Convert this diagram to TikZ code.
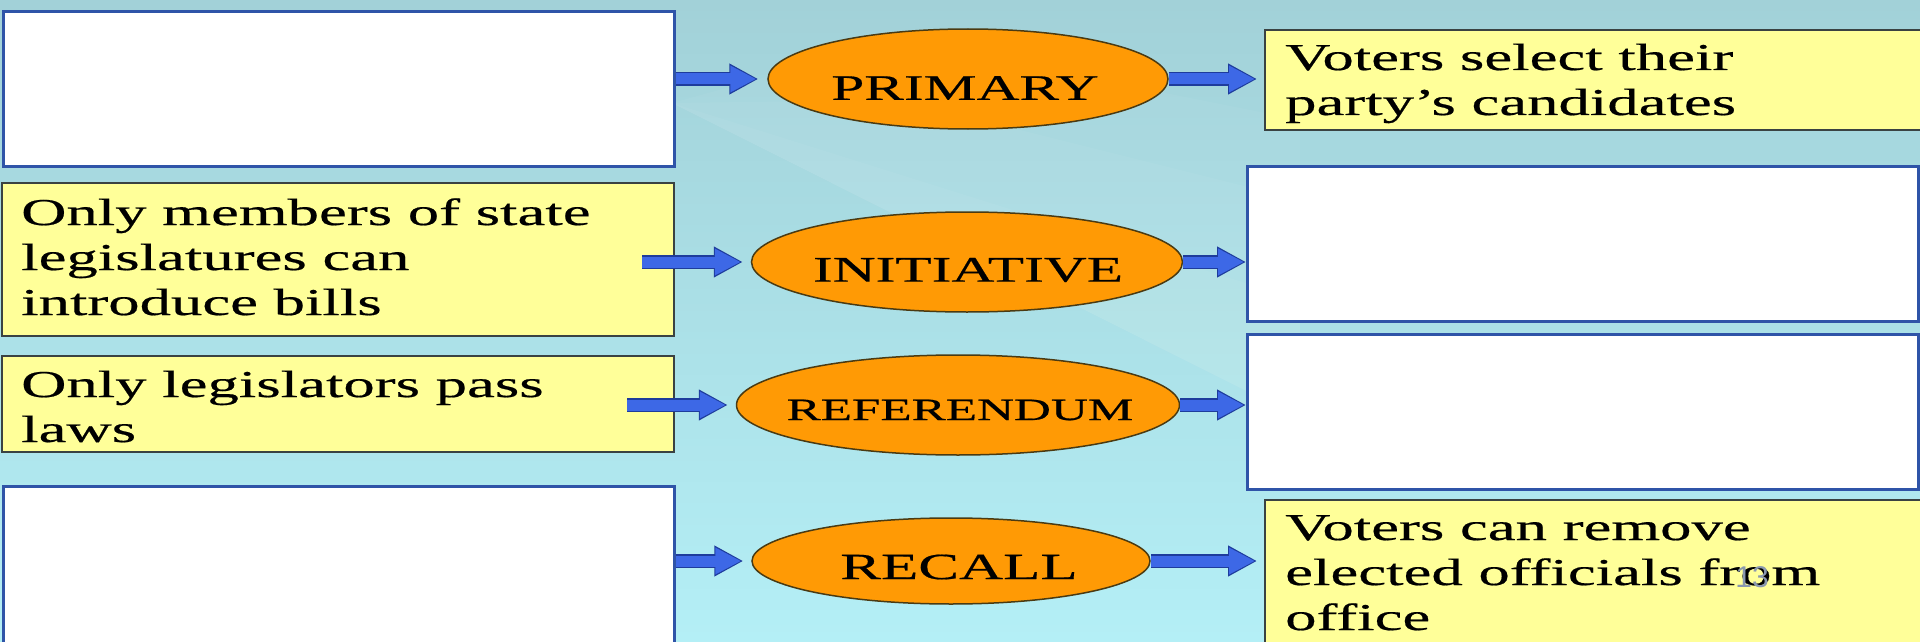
\documentclass[tikz,border=0pt]{standalone}
\usepackage{fontspec}
\setmainfont{Liberation Serif}
\newfontfamily\wideserif[FakeStretch=1.65,FakeBold=0.5]{Liberation Serif}
\newfontfamily\pagenumfont{Liberation Sans}
\usetikzlibrary{shapes.geometric,arrows.meta,calc}
\definecolor{bgtop}{HTML}{A2D1D8}
\definecolor{bgbot}{HTML}{B4EFF6}
\definecolor{boxyellow}{HTML}{FFFF99}
\definecolor{boxedge}{HTML}{3A4242}
\definecolor{whiteedge}{HTML}{2F54A8}
\definecolor{ovalfill}{HTML}{FF9A05}
\definecolor{ovaledge}{HTML}{4A3A12}
\definecolor{arrowblue}{HTML}{3D68E6}
\definecolor{arrowedge}{HTML}{1E3C9C}
\definecolor{pagegray}{HTML}{8A98AE}
\tikzset{
  yellowbox/.style={rectangle, anchor=north west, fill=boxyellow, draw=boxedge, line width=2pt, inner sep=0pt},
  whitebox/.style={rectangle, anchor=north west, fill=white, draw=whiteedge, line width=3pt, inner sep=0pt},
  oval/.style={ellipse, fill=ovalfill, draw=ovaledge, line width=1.5pt, inner sep=0pt},
  ovaltext/.style={inner sep=0pt, text=black},
  boxtext/.style={anchor=base west, inner sep=0pt, text=black, font=\wideserif\fontsize{38}{45}\selectfont},
  arrowout/.style={draw=arrowedge, line width=14pt, -{Triangle[width=29pt,length=29pt]}},
  arrowin/.style={draw=arrowblue, line width=11pt, -{Triangle[width=25pt,length=26pt]}},
}
\newcommand{\blockarrow}[4]{%
  \draw[arrowout, shorten >=#3] (#1) -- (#2);
  \draw[arrowin, shorten >=#4] (#1) -- (#2);
}
\begin{document}
\begin{tikzpicture}[x=1pt, y=-1pt]
\useasboundingbox (0,0) rectangle (1920,642);
% background
\fill[top color=bgtop, bottom color=bgbot] (0,0) rectangle (1920,642);
\fill[white, opacity=0.04] (672,103) -- (1300,418) -- (1300,120) -- (900,40) -- cycle;
\fill[white, opacity=0.04] (672,103) -- (1300,418) -- (1300,200) -- (900,100) -- cycle;
\fill[white, opacity=0.04] (672,103) -- (1300,418) -- (1300,300) -- cycle;

% left boxes
\node[whitebox, minimum width=671pt, minimum height=155pt] (tl) at (1.5,10) {};
\node[yellowbox, minimum width=672pt, minimum height=153pt] (ml) at (1,182) {};
\node[yellowbox, minimum width=672pt, minimum height=96pt] (ll) at (1,355) {};
\node[whitebox, minimum width=671pt, minimum height=175pt] (bl) at (1.5,485) {};

% right boxes
\node[yellowbox, minimum width=680pt, minimum height=100pt] (tr) at (1264,29) {};
\node[whitebox, minimum width=671pt, minimum height=155pt] (ra) at (1246,165) {};
\node[whitebox, minimum width=671pt, minimum height=155pt] (rb) at (1246,333) {};
\node[yellowbox, minimum width=680pt, minimum height=170pt] (br) at (1264,499) {};

% box texts
\node[boxtext] (mltext) at (21,225) {\parbox[t]{640pt}{Only members of state\\legislatures can\\introduce bills}};
\node[boxtext] (lltext) at (21,397) {\parbox[t]{640pt}{Only legislators pass\\laws}};
\node[boxtext] (trtext) at (1285,70) {\parbox[t]{620pt}{Voters select their\\party’s candidates}};
\node[boxtext] (brtext) at (1285,540) {\parbox[t]{620pt}{Voters can remove\\elected officials from\\office}};

% ovals
\node[oval, minimum width=400pt, minimum height=100pt] (pri) at (968,79) {};
\node[oval, minimum width=431pt, minimum height=100pt] (ini) at (967,262) {};
\node[oval, minimum width=443pt, minimum height=100pt] (ref) at (958,405) {};
\node[oval, minimum width=398pt, minimum height=86pt] (rec) at (951,561) {};
\node[ovaltext, font=\wideserif\fontsize{36}{40}\selectfont] (pritext) at ([shift={(-3,9)}]pri.center) {PRIMARY};
\node[ovaltext, font=\wideserif\fontsize{36}{40}\selectfont] (initext) at ([shift={(1,8)}]ini.center) {INITIATIVE};
\node[ovaltext, font=\wideserif\fontsize{31}{35}\selectfont] (reftext) at ([shift={(2,5)}]ref.center) {REFERENDUM};
\node[ovaltext, font=\wideserif\fontsize{37}{40}\selectfont] (rectext) at ([shift={(8,6)}]rec.center) {RECALL};

% arrows
\blockarrow{tl.east |- pri.west}{pri.west}{9pt}{11pt}
\blockarrow{[xshift=-33pt]ml.east |- ini.west}{ini.west}{8pt}{10pt}
\blockarrow{[xshift=-48pt]ll.east |- ref.west}{ref.west}{8pt}{10pt}
\blockarrow{bl.east |- rec.west}{rec.west}{8pt}{10pt}
\blockarrow{pri.east}{tr.west |- pri.east}{7pt}{9pt}
\blockarrow{ini.east}{ra.west |- ini.east}{0pt}{2pt}
\blockarrow{ref.east}{rb.west |- ref.east}{0pt}{2pt}
\blockarrow{rec.east}{br.west |- rec.east}{7pt}{9pt}

% slide number
\node[inner sep=0pt, anchor=base, text=pagegray, font=\pagenumfont\fontsize{30}{30}\selectfont] (pagenum) at (1752,587) {13};
\end{tikzpicture}
\end{document}
